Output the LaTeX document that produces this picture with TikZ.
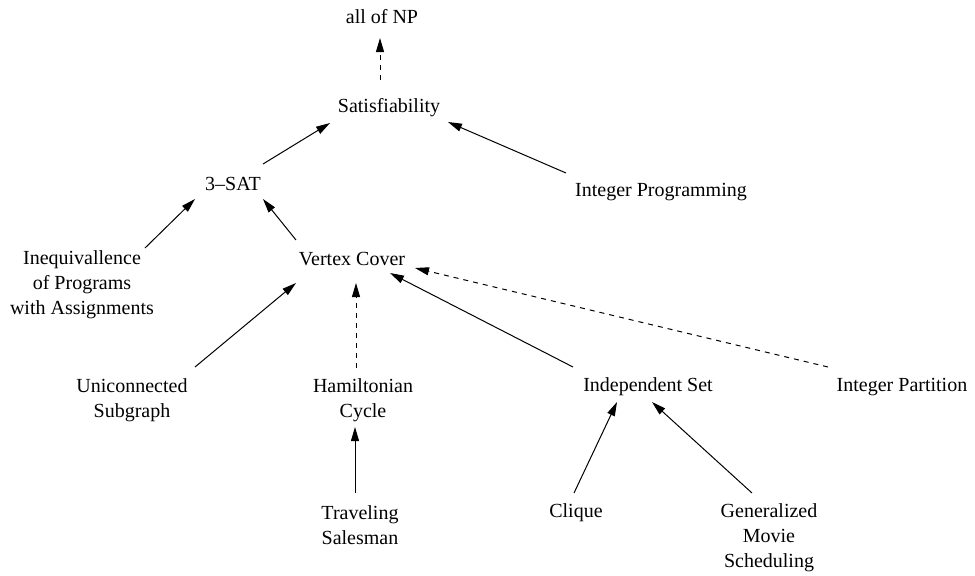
\documentclass[tikz,border=0pt]{standalone}
\usepackage{fontspec}
\setmainfont{Liberation Serif}
\usetikzlibrary{arrows.meta}

\begin{document}
\begin{tikzpicture}[
  x=0.5pt, y=-0.5pt,
  font=\fontsize{10}{12.5}\selectfont,
  prob/.style={inner sep=0pt, align=center},
  reduc/.style={-{Triangle[length=7pt,width=4pt]}, line width=0.5pt, draw=black},
  open/.style={reduc, dash pattern=on 2.5pt off 2.5pt},
]
\useasboundingbox (0,0) rectangle (975,575);

%====================== PROBLEMS ======================
\node[prob] (np)    at (382,17)  {all of NP};
\node[prob] (sat)   at (389,108) {Satisfiability};
\node[prob] (tsat)  at (233,184) {3--SAT};
\node[prob] (ip)    at (661,192) {Integer Programming};
\node[prob] (ineq)  at (82,285)  {Inequivallence\\ of Programs\\ with Assignments};
\node[prob] (vc)    at (352,259) {Vertex Cover};
\node[prob] (usg)   at (132,400) {Uniconnected\\ Subgraph};
\node[prob] (ham)   at (363,400) {Hamiltonian\\ Cycle};
\node[prob] (iset)  at (648,387) {Independent Set};
\node[prob] (ipart) at (902,387) {Integer Partition};
\node[prob] (ts)    at (360,525) {Traveling\\ Salesman};
\node[prob] (clq)   at (576,513) {Clique};
\node[prob] (gms)   at (769,538) {Generalized\\ Movie\\ Scheduling};

%====================== REDUCTIONS ======================
\draw[open]  ([shift={(-9,-28)}]sat.center)   -- ([shift={(-2,21)}]np.center);
\draw[reduc] ([shift={(30,-20)}]tsat.center)  -- ([shift={(-59,15)}]sat.center);
\draw[reduc] ([shift={(-95,-19)}]ip.center)   -- ([shift={(59,14)}]sat.center);
\draw[reduc] ([shift={(63,-37)}]ineq.center)  -- ([shift={(-38,15)}]tsat.center);
\draw[reduc] ([shift={(-56,-19)}]vc.center)   -- ([shift={(30,15)}]tsat.center);
\draw[reduc] ([shift={(63,-33)}]usg.center)   -- ([shift={(-56,24)}]vc.center);
\draw[open]  ([shift={(-7,-32)}]ham.center)   -- ([shift={(4,24)}]vc.center);
\draw[reduc] ([shift={(-75,-20)}]iset.center) -- ([shift={(38,14)}]vc.center);
\draw[open]  ([shift={(-74,-20)}]ipart.center) -- ([shift={(63,9)}]vc.center);
\draw[reduc] ([shift={(-5,-32)}]ts.center)    -- ([shift={(-8,27)}]ham.center);
\draw[reduc] ([shift={(-2,-20)}]clq.center)   -- ([shift={(-31,15)}]iset.center);
\draw[reduc] ([shift={(-17,-45)}]gms.center)  -- ([shift={(4,15)}]iset.center);
\end{tikzpicture}
\end{document}
